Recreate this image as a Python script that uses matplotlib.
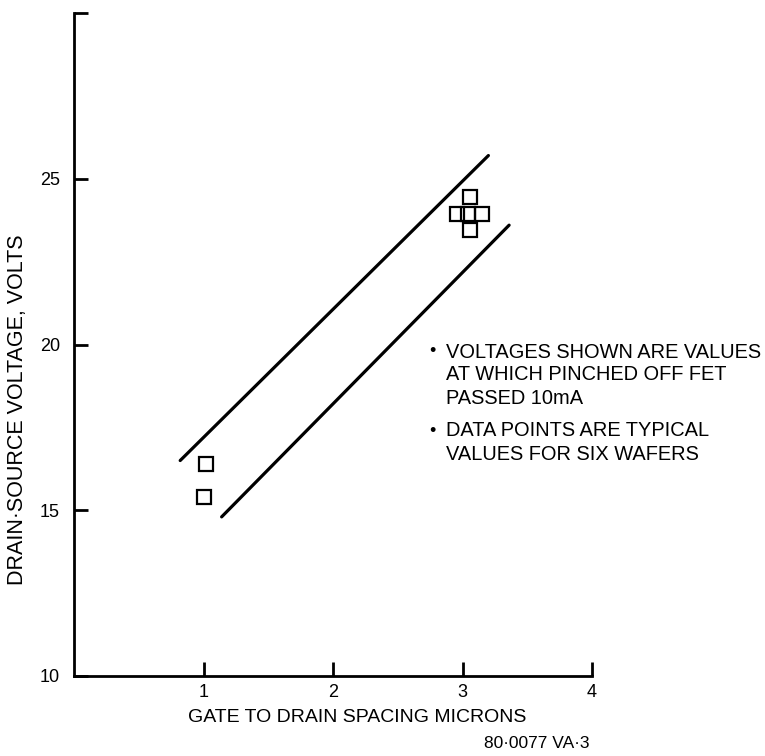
import matplotlib
matplotlib.use("Agg")
import matplotlib.pyplot as plt

plt.rcParams['font.family'] = ['Liberation Sans', 'DejaVu Sans']

# Data
pts_x = [1.02, 1.00, 2.96, 3.04, 3.15, 3.06, 3.06]
pts_y = [16.4, 15.4, 23.95, 23.95, 23.95, 24.45, 23.45]

upper_x = [0.82, 3.20]
upper_y = [16.5, 25.7]
lower_x = [1.14, 3.36]
lower_y = [14.8, 23.6]

xticks = [1, 2, 3, 4]
xticklabels = ['1', '2', '3', '4']
yticks = [10, 15, 20, 25, 30]
yticklabels = ['10', '15', '20', '25', '']

notes = [
    ("\u2022", ["VOLTAGES SHOWN ARE VALUES", "AT WHICH PINCHED OFF FET", "PASSED 10mA"]),
    ("\u2022", ["DATA POINTS ARE TYPICAL", "VALUES FOR SIX WAFERS"]),
]

W, H = 765, 756
fig = plt.figure(figsize=(W / 100, H / 100), dpi=100)
ax = fig.add_axes([74 / W, 1 - 676 / H, (592 - 74) / W, (676 - 13) / H])

ax.plot(upper_x, upper_y, color='black', lw=2.3, solid_capstyle='round')
ax.plot(lower_x, lower_y, color='black', lw=2.3, solid_capstyle='round')
ax.plot(pts_x, pts_y, linestyle='none', marker='s', markersize=10,
        markerfacecolor='none', markeredgecolor='black', markeredgewidth=1.6)

ax.set_xlim(0, 4)
ax.set_ylim(10, 30)
ax.spines['top'].set_visible(False)
ax.spines['right'].set_visible(False)
for s in ['left', 'bottom']:
    ax.spines[s].set_linewidth(2.0)

ax.set_xticks(xticks)
ax.set_xticklabels(xticklabels)
ax.set_yticks(yticks)
ax.set_yticklabels(yticklabels)
ax.tick_params(axis='both', direction='in', length=10, width=2.0,
               labelsize=13)
ax.tick_params(axis='x', pad=6)
ax.tick_params(axis='y', pad=10)

fig.text(357 / W, 1 - 718 / H, "GATE TO DRAIN SPACING MICRONS",
         ha='center', va='center', fontsize=14)
fig.text(18 / W, 1 - 410 / H, "DRAIN\u00b7SOURCE VOLTAGE, VOLTS",
         ha='center', va='center', rotation=90, fontsize=15.5)

y0 = 352
for bullet, lines in notes:
    fig.text(432 / W, 1 - y0 / H, bullet, ha='center', va='center', fontsize=13)
    for ln in lines:
        fig.text(446 / W, 1 - y0 / H, ln, ha='left', va='center', fontsize=14.4)
        y0 += 23
    y0 += 10

fig.text(590 / W, 1 - 743 / H, "80\u00b70077 VA\u00b73", ha='right', va='center',
         fontsize=12.5)

fig.savefig("out.png", dpi=100)
